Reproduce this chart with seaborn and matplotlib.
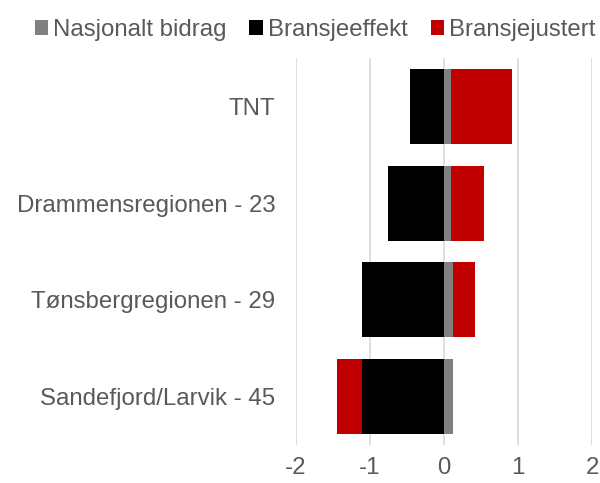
import numpy as np
import pandas as pd
import seaborn as sns
import matplotlib.pyplot as plt
from matplotlib.patches import Patch

# data
regions = ["TNT", "Drammensregionen - 23", "Tønsbergregionen - 29", "Sandefjord/Larvik - 45"]
nasjonalt = [0.10, 0.09, 0.12, 0.12]
bransjeeffekt = [-0.46, -0.75, -1.11, -1.11]
bransjejustert = [0.82, 0.45, 0.30, -0.33]

colors = {
    "Nasjonalt bidrag": "#808080",
    "Bransjeeffekt": "#000000",
    "Bransjejustert": "#C00000",
}

sns.set_style("white")
plt.rcParams["font.family"] = ["Liberation Sans", "DejaVu Sans"]
plt.rcParams["axes.unicode_minus"] = False

df = pd.DataFrame({
    "Region": regions,
    "Nasjonalt": nasjonalt,
    "Bransje": bransjeeffekt,
    "Justert": bransjejustert,
})

# Excel-style stacking: positives stack on positives, negatives on negatives
df["Justert_end"] = np.where(
    df["Justert"] >= 0,
    df["Nasjonalt"] + df["Justert"],
    df["Bransje"] + df["Justert"],
)

fig = plt.figure(figsize=(6, 4.83), dpi=100)
ax = fig.add_axes([0.4933, 0.0787, 0.4934, 0.8013])

bar_kw = dict(y="Region", order=regions, orient="h", width=0.775,
              saturation=1, errorbar=None, linewidth=0, ax=ax)

sns.barplot(data=df, x="Justert_end", color=colors["Bransjejustert"], **bar_kw)
sns.barplot(data=df, x="Nasjonalt", color=colors["Nasjonalt bidrag"], **bar_kw)
sns.barplot(data=df, x="Bransje", color=colors["Bransjeeffekt"], **bar_kw)

ax.set_xlim(-2, 2)
ax.set_xticks([-2, -1, 0, 1, 2])
ax.set_xlabel("")
ax.set_ylabel("")
ax.set_axisbelow(True)
ax.grid(axis="x", color="#D9D9D9", linewidth=1.2)
ax.grid(axis="y", visible=False)
for spine in ax.spines.values():
    spine.set_visible(False)

ax.tick_params(axis="x", length=0, pad=9, labelsize=17.3, labelcolor="#595959")
ax.tick_params(axis="y", length=0, pad=15, labelsize=17.3, labelcolor="#595959")

handles = [Patch(facecolor=c, edgecolor="none", label=k) for k, c in colors.items()]
fig.legend(
    handles=handles,
    loc="upper center",
    bbox_to_anchor=(0.525, 1.0),
    ncol=3,
    frameon=False,
    fontsize=17.3,
    labelcolor="#595959",
    handlelength=0.55,
    handleheight=0.55,
    handletextpad=0.22,
    columnspacing=0.95,
    borderaxespad=0.4,
)

plt.savefig("out.png", dpi=100)
